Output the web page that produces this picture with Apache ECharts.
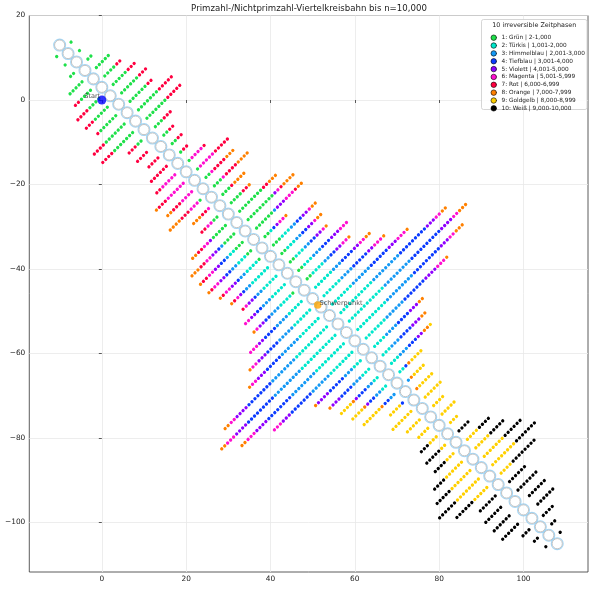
<!DOCTYPE html>
<html>
<head>
<meta charset="utf-8">
<script src="https://cdn.jsdelivr.net/npm/echarts@6/dist/echarts.min.js"></script>
<style>
html,body{margin:0;padding:0;background:#fff;}
#chart{width:592px;height:590px;}
</style>
</head>
<body>
<div id="chart"></div>
<script>
// Lage der Punkte entlang einer Reihe, s = x + y (oberhalb / unterhalb der Bahn)
var upperS = [6.4, 7.8, 9.2, 10.6, 12.1, 13.5, 14.9, 16.3, 17.7, 19.1, 20.5, 22.0, 23.4, 24.8, 26.2, 27.6, 29.0, 30.4, 31.9, 33.3,
  34.7, 36.1, 37.5, 38.9, 40.3, 41.8, 43.2, 44.6, 46.0, 47.4, 48.8, 50.2, 51.6, 53.1, 54.5, 55.9, 57.3, 58.7, 60.1, 61.5];
var lowerS = [-0.4, -1.8, -3.2, -4.6, -6.1, -7.5, -8.9, -10.3, -11.7, -13.1, -14.5, -16.0, -17.4, -18.8, -20.2, -21.6, -23.0, -24.4, -25.9, -27.3,
  -28.7, -30.1, -31.5, -32.9, -34.3, -35.8, -37.2, -38.6, -40.0, -41.4, -42.8, -44.2, -45.7, -47.1, -48.5, -49.9, -51.3, -52.7, -54.1];

// Punktreihen je Phase: [m = x - y, Seite (1 oben / -1 unten), erster Punkt, letzter Punkt]
var runsGruen = [[-21,1,0,0],[-17,1,0,0],[-13,1,0,1],[-9,1,0,4],[-5,1,0,3],[-1,1,0,4],[3,1,0,5],[7,1,0,5],[11,1,0,6],[15,1,0,6],
  [19,1,0,2],[23,1,0,1],[27,1,0,1],[31,1,0,0],[35,1,0,0],[39,1,0,0],[43,1,0,1],[47,1,0,2],[51,1,0,2],[55,1,0,3],[59,1,0,7],
  [63,1,0,8],[67,1,0,5],[71,1,0,1],[75,1,0,2],[79,1,0,1],[83,1,0,1],[87,1,0,1],[91,1,0,1],
  [-21,-1,0,0],[-17,-1,0,0],[-13,-1,0,1],[-9,-1,0,4],[-5,-1,0,3],[-1,-1,0,3],[3,-1,0,4],[7,-1,0,5],[11,-1,0,6],[15,-1,0,6],
  [19,-1,0,1],[47,-1,0,0],[55,-1,0,1],[59,-1,0,4],[63,-1,0,3],[67,-1,0,2],[71,-1,0,1],[75,-1,0,0],[91,-1,0,0]];
var runsTuerkis = [[71,1,2,2],[75,1,3,5],[79,1,2,4],[83,1,2,4],[87,1,2,4],[91,1,2,5],[95,1,0,5],[99,1,0,5],[103,1,0,6],[107,1,0,10],
  [111,1,0,11],[115,1,0,9],[119,1,0,6],[123,1,0,3],[127,1,0,2],[131,1,0,2],[135,1,0,1],
  [67,-1,3,4],[71,-1,2,4],[75,-1,1,4],[79,-1,0,5],[83,-1,0,4],[87,-1,0,4],[91,-1,1,4],[95,-1,0,4],[99,-1,0,5],[103,-1,0,6],
  [107,-1,0,10],[111,-1,0,11],[115,-1,0,9],[119,-1,0,7],[123,-1,0,2],[127,-1,0,2],[131,-1,0,1],[135,-1,0,1]];
var runsHimmelblau = [[67,1,6,6],[75,1,6,7],[79,1,5,6],[83,1,5,6],[87,1,5,7],[91,1,6,7],[95,1,6,8],[99,1,6,9],[103,1,7,12],
  [107,1,11,19],[111,1,12,20],[115,1,10,18],[119,1,7,12],[123,1,4,7],[127,1,3,5],[131,1,3,5],[139,1,0,0],
  [63,-1,4,4],[67,-1,5,5],[71,-1,5,6],[75,-1,5,6],[79,-1,6,7],[83,-1,5,6],[87,-1,5,7],[91,-1,5,7],[95,-1,5,8],[99,-1,6,10],
  [103,-1,7,12],[107,-1,11,18],[111,-1,12,20],[115,-1,10,17],[119,-1,8,13],[123,-1,3,5],[127,-1,3,5],[131,-1,2,3],[135,-1,2,3],[139,-1,0,1]];
var runsTiefblau = [[71,1,3,3],[75,1,8,9],[79,1,7,8],[83,1,7,8],[87,1,8,10],[91,1,8,9],[95,1,9,12],[99,1,10,14],[103,1,13,18],
  [107,1,20,28],[111,1,21,30],[115,1,19,27],[119,1,13,19],[123,1,8,11],[127,1,6,9],[131,1,6,8],[135,1,2,2],
  [63,-1,5,5],[67,-1,6,7],[71,-1,7,8],[75,-1,7,7],[79,-1,8,8],[83,-1,7,7],[87,-1,8,9],[91,-1,8,9],[95,-1,9,12],[99,-1,11,14],
  [103,-1,13,17],[107,-1,19,26],[111,-1,21,29],[115,-1,18,25],[119,-1,14,20],[123,-1,6,10],[127,-1,6,9],[131,-1,4,6],[135,-1,4,5],
  [139,-1,2,3],[143,-1,0,0]];
var runsViolett = [[63,1,9,9],[67,1,7,9],[71,1,4,4],[75,1,10,11],[79,1,9,10],[83,1,9,10],[87,1,11,13],[91,1,10,11],[95,1,13,14],
  [99,1,15,16],[103,1,19,21],[107,1,29,31],[111,1,31,34],[115,1,28,30],[119,1,20,23],[123,1,12,14],[127,1,10,12],[131,1,9,10],
  [59,-1,5,5],[63,-1,6,7],[67,-1,8,9],[71,-1,9,10],[75,-1,8,9],[79,-1,9,9],[83,-1,8,9],[87,-1,10,11],[91,-1,10,11],[95,-1,13,14],
  [99,-1,15,17],[103,-1,18,20],[107,-1,27,30],[111,-1,30,33],[115,-1,26,29],[119,-1,21,23],[123,-1,11,14],[127,-1,10,12],
  [131,-1,7,7],[135,-1,6,6]];
var runsMagenta = [[35,1,1,4],[39,1,1,5],[43,1,2,2],[47,1,3,3],[63,1,10,10],[67,1,10,12],[71,1,5,6],[75,1,12,12],[79,1,11,11],
  [83,1,11,11],[87,1,14,16],[91,1,12,13],[95,1,15,16],[99,1,17,19],[103,1,22,24],[107,1,32,33],[111,1,35,36],[115,1,31,32],[119,1,24,26],
  [35,-1,0,4],[39,-1,0,5],[43,-1,0,3],[47,-1,1,3],[51,-1,0,0],[55,-1,2,3],[59,-1,6,7],[63,-1,8,9],[67,-1,10,11],[71,-1,11,12],
  [75,-1,10,11],[79,-1,10,10],[83,-1,10,10],[87,-1,12,13],[91,-1,12,12],[95,-1,15,17],[99,-1,18,19],[103,-1,21,22],[107,-1,31,32],
  [111,-1,34,36],[115,-1,30,32],[119,-1,24,26]];
var runsRot = [[-5,1,4,5],[-1,1,5,7],[3,1,6,8],[7,1,6,7],[11,1,7,11],[15,1,7,11],[19,1,3,5],[23,1,2,3],[27,1,2,3],[31,1,1,2],
  [35,1,5,5],[39,1,6,10],[43,1,3,6],[47,1,4,7],[51,1,3,3],[55,1,4,5],[59,1,8,9],[63,1,11,11],[67,1,13,13],
  [-5,-1,4,5],[-1,-1,4,7],[3,-1,5,7],[7,-1,6,6],[11,-1,7,10],[15,-1,7,10],[19,-1,2,4],[23,-1,1,4],[27,-1,0,3],[31,-1,0,5],
  [35,-1,5,6],[39,-1,6,8],[43,-1,4,6],[47,-1,4,6],[51,-1,1,2],[55,-1,4,5],[59,-1,8,9],[63,-1,10,11],[67,-1,12,13],[71,-1,13,13],
  [75,-1,12,12],[79,-1,11,11],[83,-1,11,11]];
var runsOrange = [[43,1,7,9],[47,1,8,11],[51,1,4,7],[55,1,6,6],[59,1,10,12],[63,1,12,15],[67,1,14,15],[71,1,7,7],[75,1,13,14],
  [79,1,12,13],[83,1,12,12],[91,1,14,14],[95,1,17,18],[99,1,20,20],[103,1,25,25],[107,1,34,35],[111,1,37,39],[115,1,33,35],
  [119,1,27,27],[123,1,15,16],[127,1,13,14],[131,1,11,12],[135,1,3,3],[139,1,1,1],[143,1,0,0],
  [39,-1,9,9],[43,-1,7,8],[47,-1,7,10],[51,-1,3,5],[59,-1,10,11],[63,-1,12,14],[67,-1,14,14],[71,-1,14,14],[75,-1,13,13],
  [79,-1,12,12],[91,-1,13,13],[99,-1,20,20],[103,-1,23,23],[107,-1,33,34],[111,-1,37,38],[115,-1,33,34],[123,-1,15,15],
  [127,-1,13,13],[131,-1,8,8],[135,-1,7,7],[139,-1,4,4]];
var runsGoldgelb = [[131,1,13,13],[135,1,4,7],[139,1,2,5],[143,1,1,5],[147,1,0,5],[151,1,0,3],[155,1,0,4],[159,1,0,2],
  [167,1,0,3],[171,1,0,4],[175,1,0,6],[179,1,0,7],[183,1,0,3],
  [131,-1,9,12],[135,-1,8,11],[139,-1,5,10],[143,-1,1,4],[147,-1,0,6],[151,-1,0,4],[155,-1,0,3],[159,-1,0,2],[163,-1,0,1],
  [167,-1,0,2],[171,-1,0,5],[175,-1,0,6],[179,-1,0,7],[183,-1,0,4]];
var runsWeiss = [[163,1,0,3],[167,1,4,7],[171,1,5,9],[175,1,7,12],[179,1,8,14],[183,1,4,11],[187,1,0,5],[191,1,0,6],[195,1,1,6],
  [199,1,1,6],[203,1,0,3],[207,1,0,1],[211,1,0,0],
  [159,-1,3,5],[163,-1,2,6],[167,-1,3,6],[171,-1,6,9],[175,-1,7,11],[179,-1,8,13],[183,-1,5,10],[187,-1,0,5],[191,-1,1,6],
  [195,-1,1,6],[199,-1,1,6],[203,-1,0,2],[207,-1,0,1],[211,-1,0,0]];

var phaseNames = ['1: Grün | 2-1,000', '2: Türkis | 1,001-2,000', '3: Himmelblau | 2,001-3,000', '4: Tiefblau | 3,001-4,000',
  '5: Violett | 4,001-5,000', '6: Magenta | 5,001-5,999', '7: Rot | 6,000-6,999', '8: Orange | 7,000-7,999',
  '9: Goldgelb | 8,000-8,999', '10: Weiß | 9,000-10,000'];
var phaseColors = ['#1fe04a', '#00e8cc', '#1499f5', '#0b3bff', '#8f00ff', '#ff10d0', '#ff0040', '#ff8000', '#ffd000', '#000000'];
var phaseRuns = [runsGruen, runsTuerkis, runsHimmelblau, runsTiefblau, runsViolett, runsMagenta, runsRot, runsOrange, runsGoldgelb, runsWeiss];

// Viertelkreisbahn: Knoten
var chainX = [-10,-8,-6,-4,-2,0,2,4,6,8,10,12,14,16,18,20,22,24,26,28,30,32,34,36,38,40,42,44,46,48,50,52,54,56,58,60,
  62,64,66,68,70,72,74,76,78,80,82,84,86,88,90,92,94,96,98,100,102,104,106,108];
var chainY = [13,11,9,7,5,3,1,-1,-3,-5,-7,-9,-11,-13,-15,-17,-19,-21,-23,-25,-27,-29,-31,-33,-35,-37,-39,-41,-43,-45,-47,-49,
  -51,-53,-55,-57,-59,-61,-63,-65,-67,-69,-71,-73,-75,-77,-79,-81,-83,-85,-87,-89,-91,-93,-95,-97,-99,-101,-103,-105];

var startPoint = [0, 0];
var schwerpunkt = [51.2, -48.5];
var xTicks = [0, 20, 40, 60, 80, 100];
var yTicks = [20, 0, -20, -40, -60, -80, -100];

function fmt(v) { return v < 0 ? '\u2212' + (-v) : String(v); }

var chart = echarts.init(document.getElementById('chart'));

var axisText = {fontSize: 7.4, color: '#222', fontFamily: 'DejaVu Sans'};
var baseOption = {
  animation: false,
  grid: {left: 29.3, top: 15.5, width: 558.7, height: 556.5, show: true, borderColor: '#333', borderWidth: 0.8},
  xAxis: {
    type: 'value', min: -17.2, max: 115.3,
    axisLine: {show: false},
    axisTick: {show: true, length: 3, customValues: xTicks, lineStyle: {color: '#333', width: 0.8}},
    axisLabel: Object.assign({customValues: xTicks, margin: 4, formatter: fmt}, axisText),
    splitLine: {show: true, lineStyle: {color: '#e8e8e8', width: 0.8}}
  },
  yAxis: {
    type: 'value', min: -111.7, max: 20,
    axisLine: {show: false},
    axisTick: {show: true, length: 3, customValues: yTicks, lineStyle: {color: '#333', width: 0.8}},
    axisLabel: Object.assign({customValues: yTicks, margin: 4, formatter: fmt}, axisText),
    splitLine: {show: true, lineStyle: {color: '#e8e8e8', width: 0.8}}
  }
};
chart.setOption(baseOption);

// Punktabstand in Pixeln entlang einer Reihe, und Knotenabstand der Bahn
var stepS = (upperS[upperS.length - 1] - upperS[0]) / (upperS.length - 1);
var pA = chart.convertToPixel({gridIndex: 0}, [0, 0]);
var pB = chart.convertToPixel({gridIndex: 0}, [stepS / 2, stepS / 2]);
var gap = Math.hypot(pB[0] - pA[0], pB[1] - pA[1]);
var n0 = chart.convertToPixel({gridIndex: 0}, [chainX[0], chainY[0]]);
var n1 = chart.convertToPixel({gridIndex: 0}, [chainX[1], chainY[1]]);
var nodeDist = Math.hypot(n1[0] - n0[0], n1[1] - n0[1]);

function runCoords(r) {
  var m = r[0], side = r[1], row = side > 0 ? upperS : lowerS;
  var s1 = row[r[2]], s2 = row[r[3]] + side * stepS * 0.3;
  return [[(s1 + m) / 2, (s1 - m) / 2], [(s2 + m) / 2, (s2 - m) / 2]];
}

var series = phaseRuns.map(function (runs, i) {
  return {
    name: phaseNames[i], type: 'lines', coordinateSystem: 'cartesian2d', silent: true, z: 2,
    lineStyle: {color: phaseColors[i], width: 3.3, opacity: 1, cap: 'round', type: [0.01, gap - 0.01]},
    data: runs.map(function (r) { return {coords: runCoords(r)}; })
  };
});

var chainPts = chainX.map(function (x, i) { return [x, chainY[i]]; });
// Viertelkreise um jeden Knoten (hellblau), darüber die Knotenkreise
series.push({
  type: 'scatter', silent: true, z: 3, symbol: 'circle', symbolSize: nodeDist,
  itemStyle: {color: 'rgba(0,0,0,0)', borderColor: '#8fcdf4', borderWidth: 1.1},
  data: chainPts
});
series.push({
  type: 'scatter', silent: true, z: 4, symbol: 'circle', symbolSize: 10.2,
  itemStyle: {color: '#ffffff', borderColor: '#b4b4b4', borderWidth: 1},
  data: chainPts
});
series.push({
  type: 'scatter', silent: true, z: 5, symbolSize: 9,
  itemStyle: {color: '#0000ff'},
  label: {show: true, formatter: 'Start', position: 'left', distance: 5, offset: [8, -4], fontSize: 6.6, color: '#222', fontFamily: 'DejaVu Sans'},
  data: [startPoint]
});
series.push({
  type: 'scatter', silent: true, z: 5, symbolSize: 7.5,
  itemStyle: {color: '#ffa500'},
  label: {show: true, formatter: 'Schwerpunkt', position: 'right', distance: 5, offset: [-7, -2], fontSize: 6.6, color: '#222', fontFamily: 'DejaVu Sans'},
  data: [schwerpunkt]
});

chart.setOption({
  graphic: [
    {type: 'text', x: 309, y: 8.5, z: 10,
      style: {text: 'Primzahl-/Nichtprimzahl-Viertelkreisbahn bis n=10,000', align: 'center', verticalAlign: 'middle',
        fontSize: 8.6, fill: '#222', fontFamily: 'DejaVu Sans'}},
    {type: 'rect', z: 3, shape: {x: 481.5, y: 19.5, width: 105.5, height: 90, r: 2},
      style: {fill: 'rgba(255,255,255,0.85)', stroke: '#cccccc', lineWidth: 0.8}},
    {type: 'text', x: 534.3, y: 25, z: 10,
      style: {text: '10 irreversible Zeitphasen', align: 'center', verticalAlign: 'middle', fontSize: 6.4, fill: '#222', fontFamily: 'DejaVu Sans'}}
  ],
  legend: {
    orient: 'vertical', left: 485.7, top: 28.8, itemWidth: 5.5, itemHeight: 5.5, itemGap: 0.05, z: 10,
    selectedMode: false,
    textStyle: {fontSize: 5.8, lineHeight: 7.8, color: '#222', fontFamily: 'DejaVu Sans'},
    data: phaseNames.map(function (n, i) {
      return {name: n, icon: 'circle', itemStyle: {color: phaseColors[i], borderColor: '#000', borderWidth: 0.6}};
    })
  },
  series: series
});
</script>
</body>
</html>
